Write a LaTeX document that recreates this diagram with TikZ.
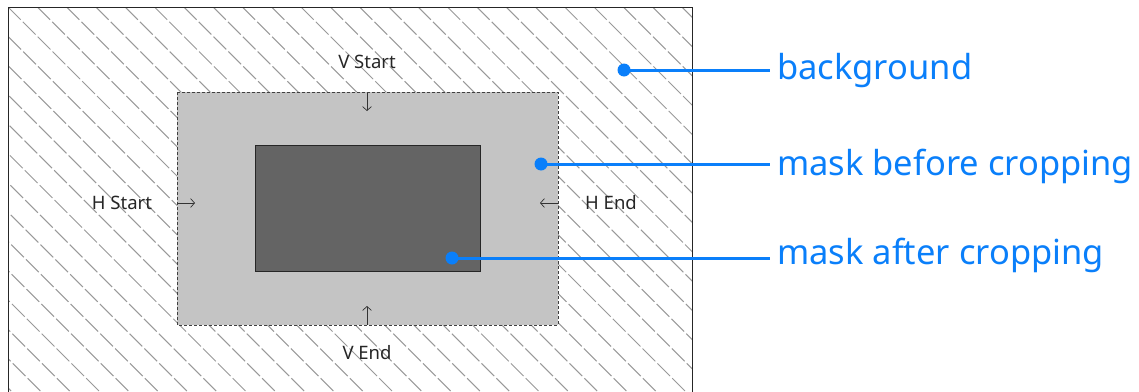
\documentclass[tikz,border=0pt]{standalone}
\usepackage{fontspec}
\setmainfont{Noto Sans}
\usetikzlibrary{arrows.meta,positioning}
\definecolor{calloutblue}{HTML}{0A7FFA}
\definecolor{maskgray}{HTML}{C4C4C4}
\definecolor{cropgray}{HTML}{646464}
\definecolor{hatchgray}{HTML}{999999}

\begin{document}
\begin{tikzpicture}[x=1pt,y=-1pt,
    dimlabel/.style={text=black!85,font=\fontsize{18.5}{22}\selectfont},
    calloutlabel/.style={anchor=west,inner sep=0pt,text=calloutblue,font=\fontsize{34.5}{40}\selectfont},
    callout/.style={draw=calloutblue,line width=3pt,shorten >=7pt},
    calloutdot/.style={fill=calloutblue},
    edgearrow/.style={-{Straight Barb[length=4pt,width=9pt]},line width=0.7pt,draw=black!80}]
    \useasboundingbox (0,0) rectangle (1139,391);
    % background hatch
    \begin{scope}
      \clip (8,7) rectangle (692,391);
      \foreach \k in {-14,...,24}
        \draw[hatchgray,line width=1pt,dash pattern=on 18pt off 3pt] (8+29.3*\k,7) -- ++(420,420);
    \end{scope}
    \draw[line width=1pt,black!85] (8,395) -- (8,7) -- (692,7) -- (692,395);
    % masks
    \filldraw[fill=maskgray,draw=black!75,line width=0.7pt,dash pattern=on 3pt off 2pt] (177,92) rectangle (558,325);
    \filldraw[fill=cropgray,draw=black!85,line width=0.7pt] (255,145) rectangle (480,271);
    % crop edges
    \node[dimlabel] (vstart) at (367,62) {V Start};
    \node[dimlabel] (vend) at (367,353) {V End};
    \node[dimlabel] (hstart) at (122,203) {H Start};
    \node[dimlabel] (hend) at (611,203) {H End};
    \coordinate (vstarttop) at (367,93);
    \coordinate (vstartbot) at (367,111);
    \coordinate (vendbot) at (367,325);
    \coordinate (vendtop) at (367,306);
    \coordinate (hstartl) at (177,203);
    \coordinate (hstartr) at (195,203);
    \coordinate (hendr) at (558,203);
    \coordinate (hendl) at (540,203);
    \draw[edgearrow] (vstarttop) -- (vstartbot);
    \draw[edgearrow] (vendbot) -- (vendtop);
    \draw[edgearrow] (hstartl) -- (hstartr);
    \draw[edgearrow] (hendr) -- (hendl);
    % callouts
    \coordinate (bgdot) at (624,70);
    \coordinate (beforedot) at (541,164);
    \coordinate (afterdot) at (452,258);
    \node[calloutlabel] (bglabel) at (777,71) {background};
    \node[calloutlabel] (beforelabel) at (777,166) {mask before cropping};
    \node[calloutlabel] (afterlabel) at (777,255) {mask after cropping};
    \draw[callout] (bgdot) -- (bgdot -| bglabel.west);
    \draw[callout] (beforedot) -- (beforedot -| beforelabel.west);
    \draw[callout] (afterdot) -- (afterdot -| afterlabel.west);
    \foreach \d in {bgdot,beforedot,afterdot}
      \fill[calloutdot] (\d) circle (6.5pt);
  \end{tikzpicture}
\end{document}
